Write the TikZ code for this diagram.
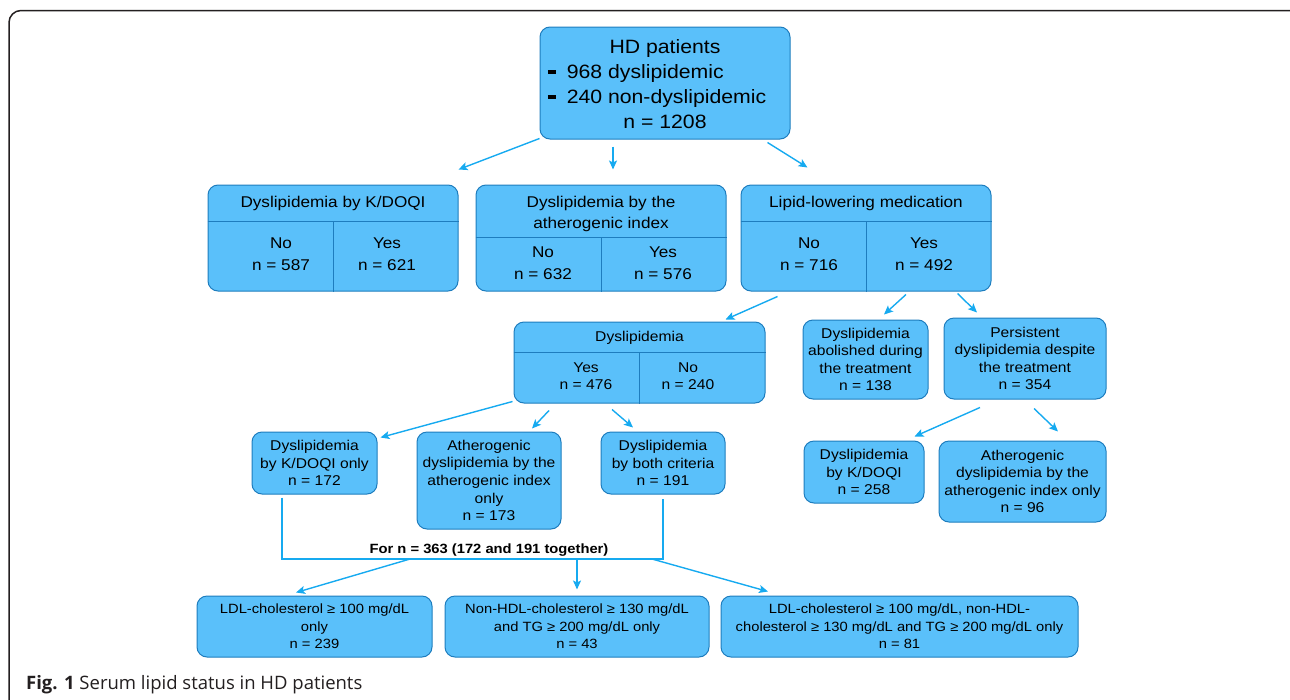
\documentclass[tikz,border=0pt]{standalone}
\usepackage{fontspec}
\setmainfont[FakeStretch=1.1]{Liberation Sans}
\newfontfamily\capfont{Open Sans}
\usepackage{tikz}
\definecolor{boxfill}{RGB}{90,192,250}
\definecolor{boxedge}{RGB}{30,125,190}
\definecolor{arrowblue}{RGB}{22,170,240}
\definecolor{framegray}{RGB}{35,31,32}
\usetikzlibrary{arrows.meta}
\usetikzlibrary{positioning}
\usetikzlibrary{calc}
\tikzset{panel/.style={rectangle,draw=boxedge,fill=boxfill,rounded corners=10pt,line width=1pt,inner sep=0pt}}
\tikzset{split/.style={boxedge,line width=1pt}}
\tikzset{line/.style={arrowblue,>={Stealth[length=9pt,width=8pt,inset=2pt]},line width=1.4pt}}
\tikzset{bigtxt/.style={font=\fontsize{19.3}{25}\selectfont}}
\tikzset{midtxt/.style={font=\fontsize{15.6}{21.5}\selectfont,align=center,inner sep=0pt}}
\tikzset{smalltxt/.style={font=\fontsize{14.2}{17.6}\selectfont,align=center}}
\tikzset{lowtxt/.style={font=\fontsize{13.4}{17.6}\selectfont,align=center}}
\tikzset{frame/.style={framegray,line width=1.5pt,rounded corners=12pt}}
\newcommand{\dashbar}{\rule[4.5pt]{8pt}{4pt}\hspace{11pt}}

\begin{document}
\begin{tikzpicture}[x=1pt,y=-1pt]
  \useasboundingbox (0,0) rectangle (1290,699);
  \draw[frame] (9,705) -- (9,10.5) -- (1302,10.5) -- (1302,705);

  % Top
  \node[panel,minimum width=250,minimum height=112] (hd) at (665,83) {};
  \node[bigtxt,inner sep=0pt] (hdtext) at (665,86)
    {\begin{tabular}{@{}l@{\hspace{16pt}}}
      \multicolumn{1}{@{}c@{}}{HD patients}\\
      \dashbar 968 dyslipidemic\\
      \dashbar 240 non-dyslipidemic\\
      \multicolumn{1}{@{}c@{}}{n = 1208}
    \end{tabular}};

  % Second row
  \node[panel,minimum width=250,minimum height=106] (kdoqi) at (333,238) {};
  \node[panel,minimum width=250,minimum height=106] (ather) at (601,238) {};
  \node[panel,minimum width=250,minimum height=106] (lipid) at (866,238) {};
  \draw[split] ([yshift=-37pt]kdoqi.north west) -- ([yshift=-37pt]kdoqi.north east);
  \draw[split] ([yshift=-37pt]kdoqi.north) -- (kdoqi.south);
  \draw[split] ([yshift=-53pt]ather.north west) -- ([yshift=-53pt]ather.north east);
  \draw[split] ([yshift=-53pt]ather.north) -- (ather.south);
  \draw[split] ([yshift=-37pt]lipid.north west) -- ([yshift=-37pt]lipid.north east);
  \draw[split] ([yshift=-37pt]lipid.north) -- (lipid.south);

  \node[midtxt] (kdoqihead) at (333,203) {Dyslipidemia by K/DOQI};
  \node[midtxt] (kdoqino) at (281,254) {No\\n = 587};
  \node[midtxt] (kdoqiyes) at (387,254) {Yes\\n = 621};
  \node[midtxt] (atherhead) at (601,214) {Dyslipidemia by the\\atherogenic index};
  \node[midtxt] (atherno) at (543,263) {No\\n = 632};
  \node[midtxt] (atheryes) at (663,263) {Yes\\n = 576};
  \node[midtxt] (lipidhead) at (866,203) {Lipid-lowering medication};
  \node[midtxt] (lipidno) at (809,254) {No\\n = 716};
  \node[midtxt] (lipidyes) at (924,254) {Yes\\n = 492};

  % Third row
  \node[panel,minimum width=251,minimum height=81] (dys) at (639.5,362.5) {};
  \draw[split] ([yshift=-31pt]dys.north west) -- ([yshift=-31pt]dys.north east);
  \draw[split] ([yshift=-31pt]dys.north) -- (dys.south);
  \node[smalltxt,inner sep=0pt] (dyshead) at (639.5,338) {Dyslipidemia};
  \node[smalltxt,inner sep=0pt] (dysyes) at (586,376) {Yes\\n = 476};
  \node[smalltxt,inner sep=0pt] (dysno) at (688,376) {No\\n = 240};

  \node[panel,smalltxt,minimum width=125,minimum height=79] (abol) at (865.5,359.5)
    {Dyslipidemia\\abolished during\\the treatment\\n = 138};
  \node[panel,smalltxt,minimum width=162,minimum height=81] (pers) at (1025,358.5)
    {Persistent\\dyslipidemia despite\\the treatment\\n = 354};

  % Fourth row
  \node[panel,smalltxt,minimum width=125,minimum height=62] (kdoqionly) at (314.5,463)
    {Dyslipidemia\\by K/DOQI only\\n = 172};
  \node[panel,smalltxt,minimum width=144,minimum height=97] (athonly) at (489,480.5)
    {Atherogenic\\dyslipidemia by the\\atherogenic index\\only\\n = 173};
  \node[panel,smalltxt,minimum width=124,minimum height=62] (both) at (663,463)
    {Dyslipidemia\\by both criteria\\n = 191};
  \node[panel,smalltxt,minimum width=120,minimum height=62] (kdoqiright) at (864,472)
    {Dyslipidemia\\by K/DOQI\\n = 258};
  \node[panel,smalltxt,minimum width=167,minimum height=81] (athright) at (1022.5,481.5)
    {Atherogenic\\dyslipidemia by the\\atherogenic index only\\n = 96};

  % Bottom row
  \coordinate (join) at (489,559);
  \node[lowtxt,font=\fontsize{13.4}{16}\bfseries] (forall) at (489,550) {For n = 363 (172 and 191 together)};
  \node[panel,lowtxt,minimum width=235,minimum height=61] (ldl) at (314.5,626.5)
    {LDL-cholesterol ≥ 100 mg/dL\\only\\n = 239};
  \node[panel,lowtxt,minimum width=264,minimum height=61] (nonhdl) at (577,626.5)
    {Non-HDL-cholesterol ≥ 130 mg/dL\\and TG ≥ 200 mg/dL only\\n = 43};
  \node[panel,lowtxt,minimum width=357,minimum height=61] (ldlall) at (899.5,626.5)
    {LDL-cholesterol ≥ 100 mg/dL, non-HDL-\\cholesterol ≥ 130 mg/dL and TG ≥ 200 mg/dL only\\n = 81};

  % Arrows
  \draw[line,->] ([yshift=1pt]hd.south west) -- ([yshift=15pt]kdoqi.north east);
  \draw[line,->] ([xshift=-52pt,yshift=-7pt]hd.south) -- ([xshift=12pt,yshift=15pt]ather.north);
  \draw[line,->] ([xshift=-23pt,yshift=-3pt]hd.south east) -- ([xshift=67pt,yshift=17pt]lipid.north west);

  \draw[line,->] ([xshift=37pt,yshift=-5pt]lipid.south west) -- ([xshift=-40pt,yshift=2pt]dys.north east);
  \draw[line,->] ([xshift=40pt,yshift=-3pt]lipid.south) -- ([xshift=18.5pt,yshift=5pt]abol.north);
  \draw[line,->] ([xshift=-34pt,yshift=-2pt]lipid.south east) -- ([xshift=-48pt,yshift=5pt]pers.north);

  \draw[line,->] ([xshift=-1pt,yshift=2pt]dys.south west) -- ([xshift=3pt,yshift=-6pt]kdoqionly.north east);
  \draw[line,->] ([xshift=-90.5pt,yshift=-7pt]dys.south) -- ([xshift=43pt,yshift=3pt]athonly.north);
  \draw[line,->] ([xshift=-27.5pt,yshift=-6pt]dys.south) -- ([xshift=-30pt,yshift=4pt]both.north);

  \draw[line,->] ([xshift=-45pt,yshift=-8pt]pers.south) -- ([xshift=-10pt,yshift=4pt]kdoqiright.north east);
  \draw[line,->] ([xshift=9pt,yshift=-9pt]pers.south) -- ([xshift=35.5pt,yshift=9pt]athright.north);

  \draw[line] ([xshift=-32.5pt,yshift=-3pt]kdoqionly.south) |- (join) -| ([yshift=-4pt]both.south);
  \draw[line,->] ([xshift=-79pt]join) -- ([xshift=-18.5pt,yshift=3pt]ldl.north);
  \draw[line,->] ([xshift=88pt]join) -- ([yshift=6pt]nonhdl.north);
  \draw[line,->] ([xshift=163pt]join) -- ([xshift=-131.5pt,yshift=4pt]ldlall.north);

  % Caption
  \node[anchor=base west,inner sep=0pt,text=framegray,font=\capfont\fontsize{18.5}{20}\selectfont] (caption) at (26,689)
    {\textbf{Fig. 1} Serum lipid status in HD patients};
\end{tikzpicture}
\end{document}
